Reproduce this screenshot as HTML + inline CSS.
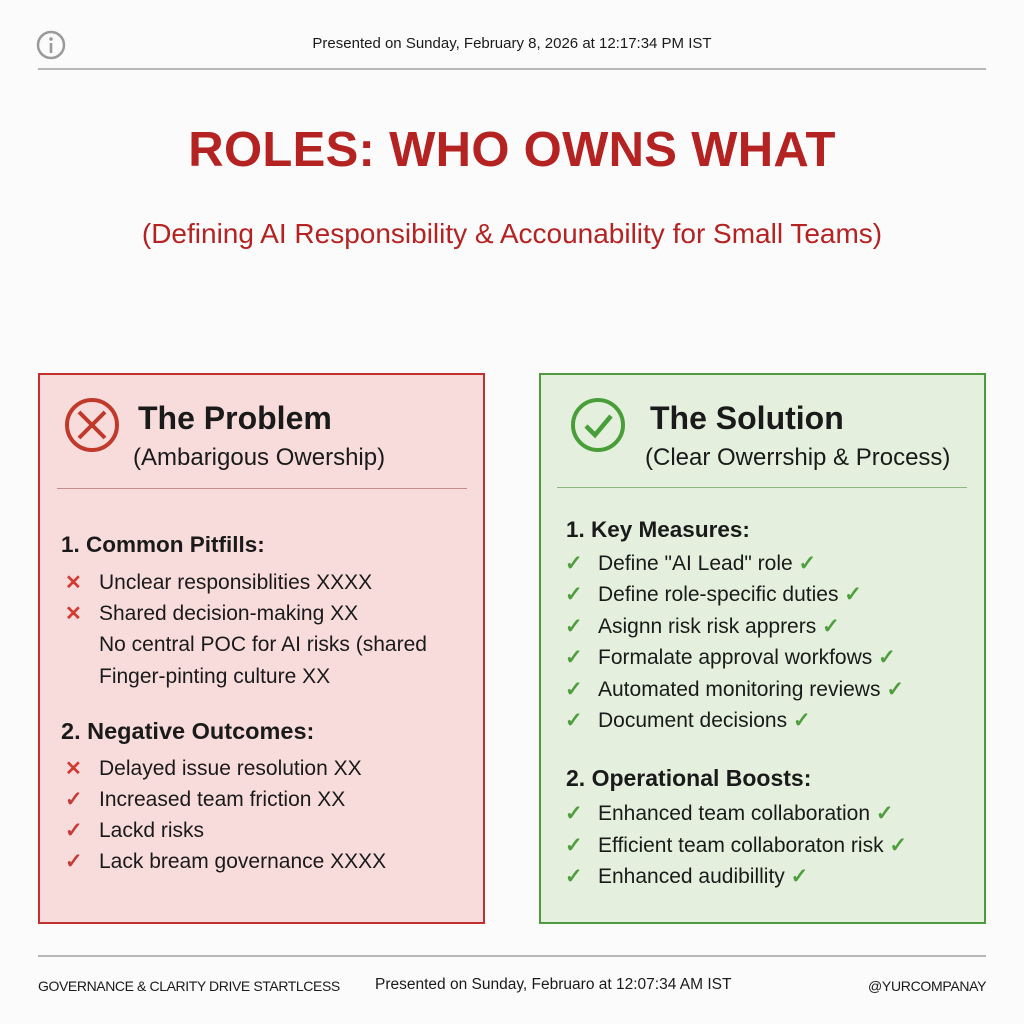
<!DOCTYPE html>
<html><head><meta charset="utf-8"><style>
*{margin:0;padding:0;box-sizing:border-box}
body{width:1024px;height:1024px;background:#fbfbfb;position:relative;font-family:"Liberation Sans",Arial,sans-serif;color:#1a1a1a;overflow:hidden}
.a{position:absolute;white-space:nowrap;line-height:24px}
.hr{position:absolute;height:2px;background:#b8b8b8}
.box{position:absolute;top:373px;width:447px;height:551px;border:2px solid}
.it{font-size:21px}
.bold{font-weight:bold}
.xr{color:#d23a32;font-weight:bold;font-size:20px}
.cr{color:#c73a3a;font-size:21px;font-weight:bold}
.cg{color:#4e9e3e;font-size:21px;font-weight:bold}
.g{color:#4e9e3e;font-weight:bold}
</style></head><body>
<svg class="a" style="left:35px;top:29px" width="32" height="32"><circle cx="16" cy="16" r="13" fill="none" stroke="#9a9a9a" stroke-width="2.5"/><circle cx="16" cy="10" r="1.8" fill="#9a9a9a"/><rect x="14.7" y="14" width="2.6" height="10" fill="#9a9a9a"/></svg>
<div class="a" style="left:0;width:1024px;text-align:center;top:32px;font-size:15px">Presented on Sunday, February 8, 2026 at 12:17:34 PM IST</div>
<div class="hr" style="left:38px;width:948px;top:68px"></div>
<div class="a bold" style="left:0;width:1024px;text-align:center;top:122px;line-height:56px;font-size:49px;color:#b52222;letter-spacing:0.3px">ROLES: WHO OWNS WHAT</div>
<div class="a" style="left:0;width:1024px;text-align:center;top:218px;line-height:32px;font-size:28px;color:#b52222">(Defining AI Responsibility &amp; Accounability for Small Teams)</div>

<div class="box" style="left:38px;background:#f8dcdc;border-color:#c23030"></div>
<svg class="a" style="left:64px;top:397px" width="56" height="56"><circle cx="28" cy="28" r="25" fill="none" stroke="#c0392b" stroke-width="4"/><path d="M15 15L41 41M41 15L15 41" stroke="#c0392b" stroke-width="4"/></svg>
<div class="a bold" style="left:138px;top:402px;line-height:32px;font-size:32px">The Problem</div>
<div class="a" style="left:133px;top:446px;font-size:24px">(Ambarigous Owership)</div>
<div class="hr" style="left:57px;width:410px;top:488px;height:1px;background:#c98a8a"></div>
<div class="a bold" style="left:61px;top:533px;font-size:22.5px">1. Common Pitfills:</div>
<div class="a xr" style="left:65px;top:571px">✕</div><div class="a it" style="left:99px;top:571px">Unclear responsiblities XXXX</div>
<div class="a xr" style="left:65px;top:602px">✕</div><div class="a it" style="left:99px;top:602px">Shared decision-making XX</div>
<div class="a it" style="left:99px;top:633px">No central POC for AI risks (shared</div>
<div class="a it" style="left:99px;top:665px">Finger-pinting culture XX</div>
<div class="a bold" style="left:61px;top:719px;font-size:23.5px">2. Negative Outcomes:</div>
<div class="a xr" style="left:65px;top:757px">✕</div><div class="a it" style="left:99px;top:757px">Delayed issue resolution XX</div>
<div class="a cr" style="left:65px;top:788px">✓</div><div class="a it" style="left:99px;top:788px">Increased team friction XX</div>
<div class="a cr" style="left:65px;top:819px">✓</div><div class="a it" style="left:99px;top:819px">Lackd risks</div>
<div class="a cr" style="left:65px;top:850px">✓</div><div class="a it" style="left:99px;top:850px">Lack bream governance XXXX</div>

<div class="box" style="left:539px;background:#e4f0dd;border-color:#4e9a3e"></div>
<svg class="a" style="left:570px;top:397px" width="56" height="56"><circle cx="28" cy="28" r="25" fill="none" stroke="#4a9e3a" stroke-width="4"/><path d="M16 29L25 38L41 19" fill="none" stroke="#4a9e3a" stroke-width="4.5"/></svg>
<div class="a bold" style="left:650px;top:402px;line-height:32px;font-size:32px">The Solution</div>
<div class="a" style="left:645px;top:446px;font-size:24px">(Clear Owerrship &amp; Process)</div>
<div class="hr" style="left:557px;width:410px;top:487px;height:1px;background:#8ab87e"></div>
<div class="a bold" style="left:566px;top:518px;font-size:22.5px">1. Key Measures:</div>
<div class="a cg" style="left:565px;top:552px">✓</div><div class="a it" style="left:598px;top:552px">Define "AI Lead" role <span class="g">✓</span></div>
<div class="a cg" style="left:565px;top:583px">✓</div><div class="a it" style="left:598px;top:583px">Define role-specific duties <span class="g">✓</span></div>
<div class="a cg" style="left:565px;top:615px">✓</div><div class="a it" style="left:598px;top:615px">Asignn risk risk apprers <span class="g">✓</span></div>
<div class="a cg" style="left:565px;top:646px">✓</div><div class="a it" style="left:598px;top:646px">Formalate approval workfows <span class="g">✓</span></div>
<div class="a cg" style="left:565px;top:678px">✓</div><div class="a it" style="left:598px;top:678px">Automated monitoring reviews <span class="g">✓</span></div>
<div class="a cg" style="left:565px;top:709px">✓</div><div class="a it" style="left:598px;top:709px">Document decisions <span class="g">✓</span></div>
<div class="a bold" style="left:566px;top:766px;font-size:23px">2. Operational Boosts:</div>
<div class="a cg" style="left:565px;top:802px">✓</div><div class="a it" style="left:598px;top:802px">Enhanced team collaboration <span class="g">✓</span></div>
<div class="a cg" style="left:565px;top:834px">✓</div><div class="a it" style="left:598px;top:834px">Efficient team collaboraton risk <span class="g">✓</span></div>
<div class="a cg" style="left:565px;top:865px">✓</div><div class="a it" style="left:598px;top:865px">Enhanced audibillity <span class="g">✓</span></div>

<div class="hr" style="left:38px;width:948px;top:955px"></div>
<div class="a" style="left:38px;top:974px;font-size:14px;letter-spacing:-0.4px">GOVERNANCE &amp; CLARITY DRIVE STARTLCESS</div>
<div class="a" style="left:375px;top:973px;font-size:15.5px">Presented on Sunday, Februaro at 12:07:34 AM IST</div>
<div class="a" style="left:868px;top:974px;font-size:14px;letter-spacing:-0.3px">@YURCOMPANAY</div>
</body></html>
